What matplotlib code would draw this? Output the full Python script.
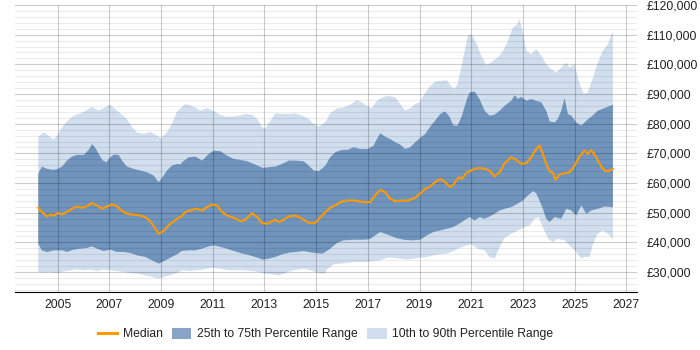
import numpy as np
import matplotlib
matplotlib.use("Agg")
import matplotlib.pyplot as plt
from matplotlib.lines import Line2D
from matplotlib.patches import Patch
from matplotlib.ticker import FuncFormatter, MultipleLocator

plt.rcParams['font.family'] = ['Liberation Sans', 'DejaVu Sans']

# (year, salary)
p90 = [(2004.25, 75640), (2004.46, 77100), (2004.65, 75980), (2004.85, 74640), (2005.00, 76300),
       (2005.17, 78780), (2005.36, 80800), (2005.62, 82700), (2005.88, 83480), (2006.13, 84600),
       (2006.33, 85720), (2006.59, 84400), (2006.84, 85500), (2007.01, 86400), (2007.23, 84900),
       (2007.42, 83480), (2007.68, 81600), (2007.88, 78780), (2008.07, 77100), (2008.33, 76540),
       (2008.58, 77320), (2008.78, 76300), (2009.00, 75190), (2009.23, 77100), (2009.42, 79900),
       (2009.62, 84150), (2009.75, 85160), (2009.94, 86620), (2010.14, 86060), (2010.33, 85500),
       (2010.52, 84380), (2010.78, 85270), (2011.00, 84380), (2011.23, 83260), (2011.49, 82360),
       (2011.75, 82360), (2012.01, 82700), (2012.26, 83260), (2012.52, 83040), (2012.72, 81580),
       (2012.91, 78780), (2013.04, 78440), (2013.23, 81020), (2013.42, 83480), (2013.68, 83260),
       (2013.94, 83260), (2014.20, 83480), (2014.46, 82700), (2014.71, 81580), (2014.91, 79900),
       (2015.10, 79000), (2015.36, 80460), (2015.54, 83480), (2015.80, 85160), (2016.06, 85500),
       (2016.32, 86390), (2016.57, 87960), (2016.77, 87180), (2017.00, 85720), (2017.15, 85270),
       (2017.35, 87740), (2017.54, 88860), (2017.80, 89420), (2018.06, 88860), (2018.25, 86620),
       (2018.44, 84380), (2018.64, 85270), (2018.83, 86620), (2019.00, 87180), (2019.15, 89420),
       (2019.35, 92220), (2019.60, 94120), (2019.86, 94460), (2020.06, 94680), (2020.21, 92780),
       (2020.34, 91660), (2020.47, 93340), (2020.64, 100060), (2020.83, 107900), (2020.87, 109580),
       (2021.00, 110140), (2021.19, 107340), (2021.39, 102860), (2021.58, 99830), (2021.77, 100620),
       (2022.03, 102300), (2022.23, 104540), (2022.42, 107900), (2022.61, 112380), (2022.78, 113500),
       (2022.87, 115180), (2023.00, 110700), (2023.13, 104540), (2023.32, 103420), (2023.51, 105100),
       (2023.71, 102860), (2023.90, 100060), (2024.09, 98380), (2024.29, 97250), (2024.48, 98940),
       (2024.68, 100620), (2024.80, 98940), (2025.00, 100060), (2025.19, 93340), (2025.36, 89980),
       (2025.51, 90540), (2025.71, 95580), (2025.90, 100620), (2026.09, 104540), (2026.29, 106780),
       (2026.42, 110140), (2026.48, 110700)]

p75 = [(2004.25, 63100), (2004.39, 65560), (2004.59, 64780), (2004.85, 64440), (2005.00, 64780),
       (2005.17, 65560), (2005.36, 67580), (2005.55, 68920), (2005.75, 69480), (2006.01, 69480),
       (2006.20, 71160), (2006.33, 73180), (2006.46, 71830), (2006.59, 69820), (2006.72, 67800),
       (2006.88, 67000), (2007.04, 68700), (2007.17, 69600), (2007.36, 69480), (2007.49, 67580),
       (2007.68, 65560), (2007.94, 64780), (2008.20, 64220), (2008.46, 63650), (2008.71, 62540),
       (2008.91, 60300), (2009.04, 61750), (2009.23, 64220), (2009.42, 65900), (2009.62, 66460),
       (2009.75, 66230), (2009.81, 67020), (2010.07, 68700), (2010.33, 68920), (2010.59, 67580),
       (2010.85, 69820), (2011.04, 70940), (2011.30, 70710), (2011.55, 69260), (2011.81, 68140),
       (2012.07, 67800), (2012.33, 67350), (2012.65, 66230), (2012.93, 65110), (2013.17, 65340),
       (2013.42, 65560), (2013.68, 66460), (2013.94, 67580), (2014.20, 67580), (2014.52, 67350),
       (2014.71, 65900), (2014.91, 64220), (2015.10, 64000), (2015.36, 65900), (2015.54, 68700),
       (2015.74, 70380), (2015.99, 71160), (2016.25, 71270), (2016.45, 72060), (2016.70, 71500),
       (2017.00, 71500), (2017.22, 72620), (2017.35, 74850), (2017.48, 76760), (2017.67, 75640),
       (2017.86, 74850), (2018.06, 73740), (2018.25, 72960), (2018.44, 71500), (2018.64, 72060),
       (2018.83, 73740), (2019.02, 75190), (2019.22, 76540), (2019.41, 79000), (2019.60, 81020),
       (2019.80, 83260), (2019.99, 84150), (2020.16, 82360), (2020.31, 79340), (2020.47, 79340),
       (2020.64, 82700), (2020.83, 88300), (2020.94, 90540), (2021.13, 90870), (2021.32, 88300),
       (2021.52, 84380), (2021.71, 82700), (2021.90, 83040), (2022.10, 84380), (2022.29, 86060),
       (2022.55, 87740), (2022.68, 89640), (2022.81, 88300), (2022.93, 89080), (2023.13, 87740),
       (2023.32, 88300), (2023.51, 87740), (2023.71, 87180), (2023.90, 84380), (2024.03, 80790),
       (2024.22, 80460), (2024.35, 81580), (2024.48, 84380), (2024.61, 88640), (2024.74, 83260),
       (2024.87, 82700), (2025.06, 80460), (2025.26, 79340), (2025.45, 81020), (2025.64, 82360),
       (2025.90, 84380), (2026.16, 85270), (2026.48, 86390)]

median = [(2004.25, 51670), (2004.39, 50220), (2004.59, 48760), (2004.72, 49430), (2004.85, 49100),
          (2005.00, 49880), (2005.17, 49430), (2005.36, 50220), (2005.55, 51340), (2005.75, 52120),
          (2005.94, 51670), (2006.13, 52120), (2006.33, 53240), (2006.52, 52460), (2006.72, 51340),
          (2006.91, 52120), (2007.10, 52790), (2007.30, 52120), (2007.55, 50220), (2007.81, 49430),
          (2008.07, 49320), (2008.39, 48540), (2008.58, 47190), (2008.74, 45180), (2008.91, 42940),
          (2009.10, 43830), (2009.36, 46300), (2009.62, 47980), (2009.75, 48540), (2009.94, 50220),
          (2010.20, 51000), (2010.39, 51340), (2010.59, 50780), (2010.78, 51900), (2010.97, 52790),
          (2011.17, 52460), (2011.36, 50220), (2011.55, 49100), (2011.81, 48310), (2012.07, 47190),
          (2012.26, 47640), (2012.52, 49880), (2012.72, 48540), (2012.91, 46520), (2013.10, 46300),
          (2013.30, 47190), (2013.42, 47640), (2013.55, 46860), (2013.75, 47640), (2013.94, 48760),
          (2014.20, 49100), (2014.46, 47980), (2014.71, 46630), (2014.95, 46520), (2015.17, 48540),
          (2015.36, 50220), (2015.54, 51670), (2015.74, 52460), (2015.93, 53580), (2016.19, 54140),
          (2016.45, 54140), (2016.64, 53910), (2016.83, 53580), (2017.09, 53580), (2017.28, 55820),
          (2017.48, 57720), (2017.67, 56940), (2017.86, 54700), (2018.06, 53910), (2018.32, 54030),
          (2018.57, 54140), (2018.83, 55030), (2019.02, 56380), (2019.22, 58060), (2019.41, 58840),
          (2019.60, 60300), (2019.80, 61420), (2019.99, 60300), (2020.18, 58620), (2020.31, 59510),
          (2020.51, 61980), (2020.64, 61420), (2020.83, 63660), (2020.94, 63980), (2021.13, 64780),
          (2021.32, 65110), (2021.52, 64780), (2021.71, 64220), (2021.90, 62200), (2022.10, 63660),
          (2022.29, 66680), (2022.55, 68700), (2022.74, 67800), (2022.93, 66460), (2023.13, 66680),
          (2023.32, 68700), (2023.51, 71500), (2023.64, 72620), (2023.77, 69820), (2023.90, 66460),
          (2024.03, 63980), (2024.16, 63660), (2024.25, 61080), (2024.42, 62870), (2024.61, 63320),
          (2024.80, 63660), (2025.00, 65900), (2025.19, 68920), (2025.38, 70940), (2025.51, 69820),
          (2025.64, 71160), (2025.77, 69590), (2025.90, 67580), (2026.03, 65560), (2026.16, 64220),
          (2026.29, 63980), (2026.48, 64780)]

p25 = [(2004.25, 39580), (2004.39, 37340), (2004.59, 36780), (2004.85, 37340), (2005.17, 37340),
       (2005.36, 36780), (2005.62, 37560), (2005.88, 37900), (2006.13, 38120), (2006.33, 38680),
       (2006.52, 37900), (2006.78, 37110), (2007.04, 37560), (2007.30, 36780), (2007.55, 36780),
       (2007.81, 36440), (2008.07, 35660), (2008.39, 35100), (2008.65, 33980), (2008.91, 32860),
       (2009.10, 33640), (2009.36, 34870), (2009.62, 35990), (2009.75, 36780), (2009.81, 37110),
       (2010.07, 37340), (2010.33, 37340), (2010.59, 37900), (2010.85, 38680), (2011.04, 39020),
       (2011.30, 38460), (2011.55, 37900), (2011.81, 37110), (2012.07, 36440), (2012.33, 35880),
       (2012.65, 35100), (2012.93, 34200), (2013.17, 34540), (2013.42, 35100), (2013.68, 36000),
       (2013.94, 36550), (2014.20, 36780), (2014.52, 37110), (2014.71, 36780), (2014.97, 36440),
       (2015.23, 36220), (2015.36, 36780), (2015.54, 37900), (2015.80, 39800), (2016.06, 40700),
       (2016.45, 40920), (2016.83, 40920), (2017.09, 41140), (2017.28, 42380), (2017.48, 43500),
       (2017.74, 42720), (2018.06, 41590), (2018.38, 40920), (2018.70, 40700), (2019.02, 40920),
       (2019.28, 42380), (2019.54, 43500), (2019.80, 44060), (2020.06, 44620), (2020.31, 45180),
       (2020.57, 46520), (2020.83, 47980), (2020.94, 48540), (2021.13, 47420), (2021.32, 48540),
       (2021.52, 47980), (2021.71, 48760), (2021.90, 49660), (2022.10, 50780), (2022.29, 51340),
       (2022.55, 51900), (2022.74, 52790), (2023.00, 54140), (2023.19, 55820), (2023.39, 57270),
       (2023.51, 56600), (2023.64, 54140), (2023.77, 51340), (2023.90, 47980), (2024.03, 46860),
       (2024.22, 48540), (2024.48, 47980), (2024.68, 51340), (2024.87, 50780), (2025.06, 49100),
       (2025.26, 52450), (2025.45, 49660), (2025.64, 50780), (2025.90, 51340), (2026.16, 52120),
       (2026.48, 51900)]

p10 = [(2004.25, 30060), (2004.46, 29830), (2004.72, 30060), (2004.97, 29720), (2005.23, 30280),
       (2005.49, 30620), (2005.75, 30950), (2006.01, 30620), (2006.26, 30840), (2006.52, 30390),
       (2006.78, 30840), (2007.04, 30620), (2007.30, 30390), (2007.55, 30060), (2007.81, 29720),
       (2008.07, 29500), (2008.39, 28940), (2008.65, 28380), (2008.91, 27820), (2009.10, 28380),
       (2009.36, 28940), (2009.62, 29720), (2009.75, 30280), (2009.81, 30620), (2010.07, 30390),
       (2010.33, 30620), (2010.59, 30840), (2010.97, 31510), (2011.23, 31170), (2011.49, 30840),
       (2011.75, 30620), (2012.01, 30620), (2012.26, 30620), (2012.52, 30390), (2012.78, 30060),
       (2013.04, 29500), (2013.30, 29270), (2013.55, 28940), (2013.75, 29500), (2014.00, 30390),
       (2014.26, 30840), (2014.52, 31170), (2014.78, 30620), (2015.04, 29830), (2015.23, 29500),
       (2015.36, 29720), (2015.41, 30840), (2015.67, 32630), (2015.93, 32850), (2016.19, 33080),
       (2016.45, 33420), (2016.70, 33420), (2016.96, 33420), (2017.22, 33750), (2017.48, 33980),
       (2017.74, 34870), (2017.99, 34870), (2018.25, 34540), (2018.51, 34200), (2018.77, 34540),
       (2019.02, 34870), (2019.28, 35100), (2019.54, 35660), (2019.80, 36000), (2020.06, 36220),
       (2020.31, 37110), (2020.57, 38220), (2020.83, 39020), (2021.00, 39360), (2021.26, 37900),
       (2021.52, 37340), (2021.71, 35100), (2021.90, 34540), (2022.10, 38450), (2022.29, 41590),
       (2022.55, 42940), (2022.81, 44060), (2023.06, 45180), (2023.26, 45740), (2023.45, 47980),
       (2023.60, 48540), (2023.77, 45180), (2023.97, 41250), (2024.16, 40140), (2024.35, 41250),
       (2024.61, 40700), (2024.87, 38450), (2025.06, 36780), (2025.26, 34540), (2025.38, 35100),
       (2025.58, 35100), (2025.71, 39580), (2025.90, 42940), (2026.09, 44060), (2026.29, 42940),
       (2026.42, 41810), (2026.48, 40920)]

year_ticks = list(range(2005, 2028, 2))
salary_ticks = list(range(30000, 120001, 10000))

c_med = '#FF9900'
c_iqr = '#7094BC'
c_dec = '#D0DEEE'


def band(upper, lower):
    xu, yu = zip(*upper)
    xl, yl = zip(*lower)
    return list(xu) + list(xl[::-1]), list(yu) + list(yl[::-1])


fig = plt.figure(figsize=(7, 3.5), dpi=100)
ax = fig.add_axes([15 / 700, 1 - 292 / 350, (636.7 - 15) / 700, 287 / 350])

bx, by = band(p90, p10)
ax.fill(bx, by, color=c_dec, lw=0, zorder=1)
bx, by = band(p75, p25)
ax.fill(bx, by, color=c_iqr, lw=0, zorder=2)
mx, my = zip(*median)
ax.plot(mx, my, color=c_med, lw=1.5, zorder=4)

ax.set_xlim(2003.35, 2027.4)
ax.set_ylim(23300, 120000)
ax.set_xticks(year_ticks)
ax.set_yticks(salary_ticks)
ax.yaxis.set_minor_locator(MultipleLocator(2000))
ax.yaxis.set_major_formatter(FuncFormatter(lambda v, p: f'£{v:,.0f}'))
ax.yaxis.tick_right()

ax.grid(which='major', color='black', alpha=0.2, lw=0.8, zorder=3)
ax.grid(which='minor', axis='y', color='black', alpha=0.08, lw=0.8, zorder=3)
ax.set_axisbelow(False)

for s in ['top', 'left', 'right']:
    ax.spines[s].set_visible(False)
ax.spines['bottom'].set_color('black')
ax.spines['bottom'].set_zorder(5)
ax.tick_params(axis='both', which='both', length=0, labelsize=8.7, colors='#222222')
ax.tick_params(axis='y', pad=7)
ax.tick_params(axis='x', pad=5)

handles = [Line2D([], [], color=c_med, lw=2.2),
           Patch(facecolor=c_iqr, edgecolor='none', alpha=0.85),
           Patch(facecolor=c_dec, edgecolor='none')]
labels = ['Median', '25th to 75th Percentile Range', '10th to 90th Percentile Range']
fig.legend(handles, labels, loc='center', bbox_to_anchor=(0.465, 1 - 334 / 350), ncol=3,
           frameon=False, fontsize=8.7, handlelength=1.6, handleheight=1.0,
           handletextpad=0.45, columnspacing=0.8, labelcolor='#222222')

fig.savefig('out.png', dpi=100)
